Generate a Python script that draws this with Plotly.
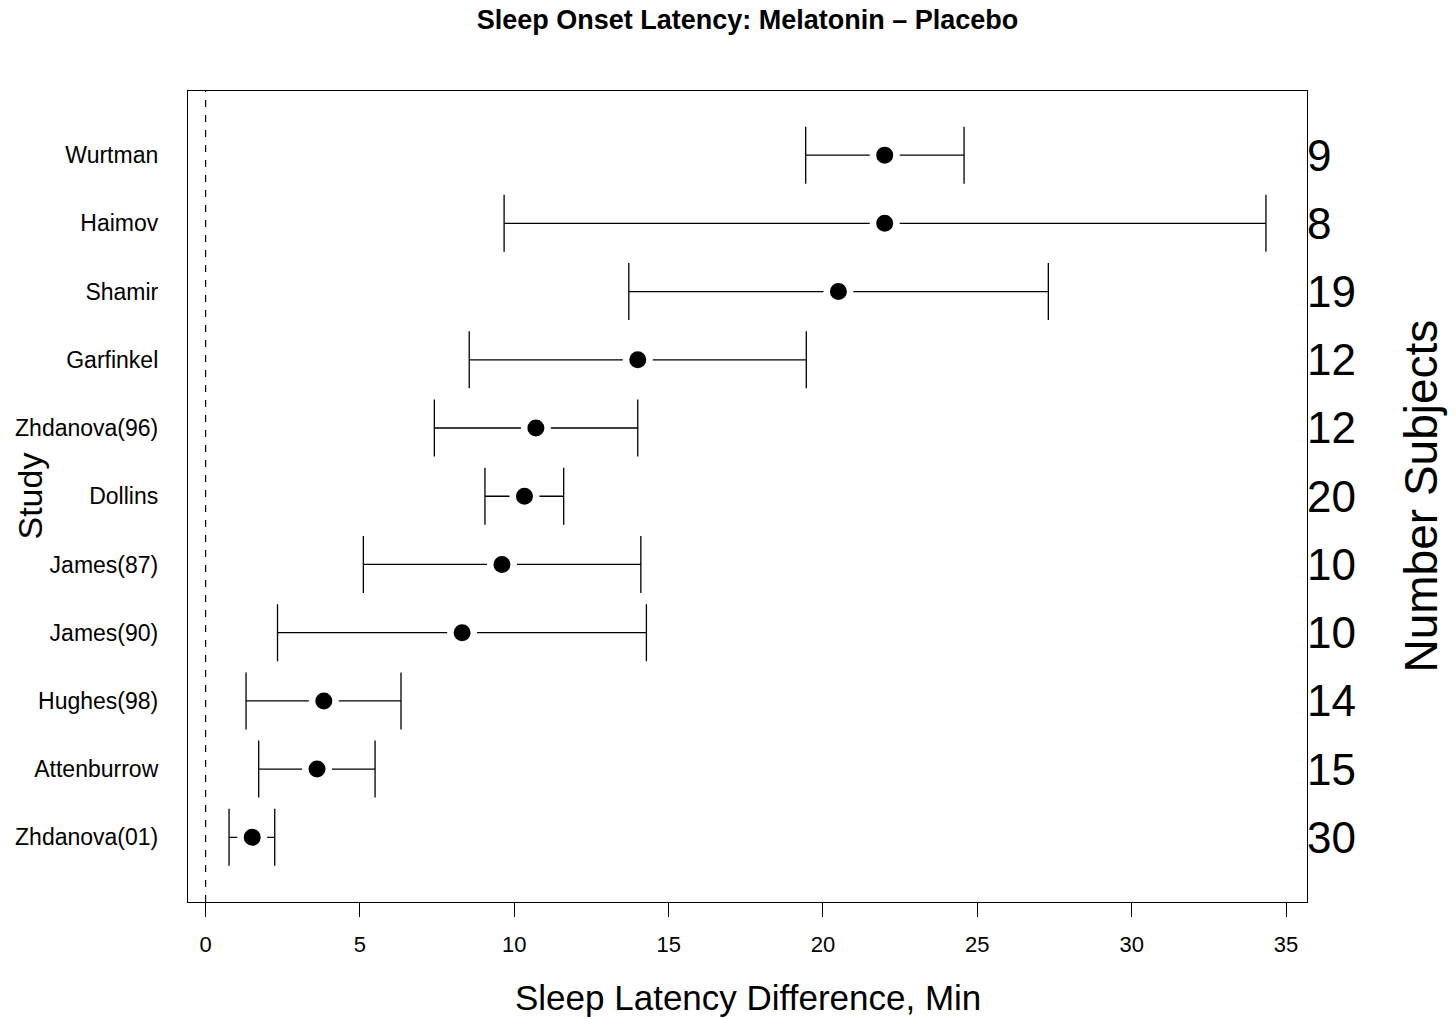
import plotly.graph_objects as go

studies = ["Wurtman", "Haimov", "Shamir", "Garfinkel", "Zhdanova(96)", "Dollins",
           "James(87)", "James(90)", "Hughes(98)", "Attenburrow", "Zhdanova(01)"]
means = [22.0, 22.0, 20.5, 14.0, 10.7, 10.33, 9.6, 8.31, 3.83, 3.61, 1.51]
lowers = [19.44, 9.67, 13.71, 8.54, 7.41, 9.05, 5.11, 2.33, 1.31, 1.72, 0.76]
uppers = [24.57, 34.35, 27.30, 19.46, 14.0, 11.60, 14.10, 14.28, 6.33, 5.49, 2.24]
n_subjects = ["9", "8", "19", "12", "12", "20", "10", "10", "14", "15", "30"]
x_ticks = [0, 5, 10, 15, 20, 25, 30, 35]

FONT = "Liberation Sans, Arial, Helvetica, sans-serif"

err_plus = [u - m for u, m in zip(uppers, means)]
err_minus = [m - l for m, l in zip(means, lowers)]
order = list(reversed(studies))

fig = go.Figure()

fig.add_trace(go.Scatter(
    x=means, y=studies, mode="markers",
    marker=dict(size=1, color="rgba(0,0,0,0)"),
    error_x=dict(type="data", array=err_plus, arrayminus=err_minus,
                 color="black", thickness=1.3, width=28.5),
    hoverinfo="skip", showlegend=False,
))

fig.add_trace(go.Scatter(
    x=means, y=studies, mode="markers",
    marker=dict(size=23.5, color="black", line=dict(color="white", width=6.5)),
    showlegend=False,
))

fig.add_trace(go.Scatter(
    x=means, y=studies, yaxis="y2", mode="markers",
    marker=dict(size=1, color="rgba(0,0,0,0)"),
    hoverinfo="skip", showlegend=False,
))

fig.add_shape(type="line", x0=0, x1=0, y0=0, y1=1, xref="x", yref="paper",
              line=dict(color="black", width=1.2, dash="7px,8px"))

fig.update_layout(
    width=1456, height=1019,
    margin=dict(l=188, r=149, t=91, b=117),
    paper_bgcolor="white", plot_bgcolor="white",
    font=dict(family=FONT, color="black"),
    title=dict(text="<b>Sleep Onset Latency: Melatonin \u2013 Placebo</b>",
               x=(188 + 1307) / 2 / 1456, xanchor="center",
               y=1 - 20 / 1019, yanchor="middle",
               font=dict(size=27, family=FONT, color="black")),
    xaxis=dict(range=[-0.57, 35.68], tickvals=x_ticks, ticks="outside", ticklen=14,
               tickwidth=1.2, tickcolor="black", showgrid=False, zeroline=False,
               showline=True, linecolor="black", linewidth=1.3, mirror=True,
               tickfont=dict(size=22, family=FONT, color="black"),
               ticklabelstandoff=8),
    yaxis=dict(type="category", categoryorder="array", categoryarray=order,
               range=[-0.948, 10.94], ticks="", showgrid=False, zeroline=False,
               showline=True, linecolor="black", linewidth=1.3, mirror=True,
               tickfont=dict(size=23, family=FONT, color="black"),
               ticklabelstandoff=24),
    yaxis2=dict(type="category", categoryorder="array", categoryarray=order,
                range=[-0.948, 10.94], overlaying="y", side="right",
                tickmode="array", tickvals=studies, ticktext=n_subjects,
                ticks="", showgrid=False, zeroline=False, showline=False,
                tickfont=dict(size=44, family=FONT, color="black"),
                ticklabelstandoff=-1),
    annotations=[
        dict(text="Sleep Latency Difference, Min", xref="paper", yref="paper",
             x=0.5, y=0, yshift=-95, xanchor="center", yanchor="middle",
             showarrow=False, font=dict(size=35, family=FONT, color="black")),
        dict(text="Study", xref="paper", yref="paper", x=0, y=0.5,
             xshift=-159, xanchor="center", yanchor="middle", textangle=-90,
             showarrow=False, font=dict(size=34, family=FONT, color="black")),
        dict(text="Number Subjects", xref="paper", yref="paper", x=1, y=0.5,
             xshift=113, xanchor="center", yanchor="middle", textangle=-90,
             showarrow=False, font=dict(size=46, family=FONT, color="black")),
    ],
)

fig.write_html("out.html")
